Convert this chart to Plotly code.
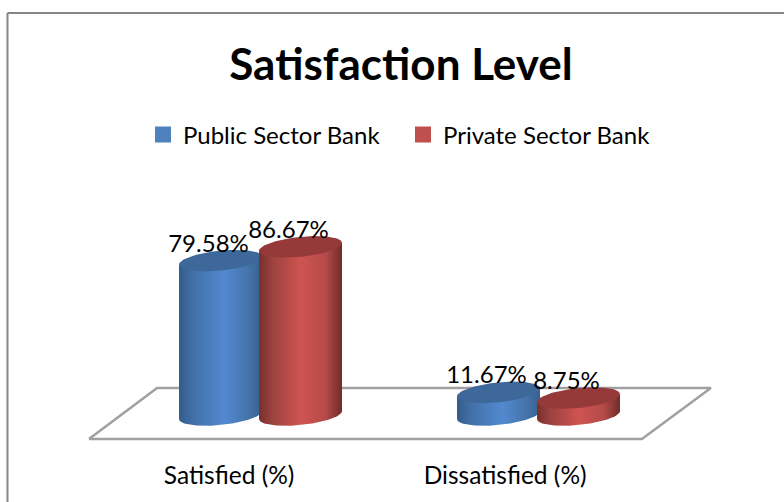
import numpy as np
import plotly.graph_objects as go

# Survey results
categories = ["Satisfied (%)", "Dissatisfied (%)"]
public_sector = [79.58, 11.67]
private_sector = [86.67, 8.75]
series_names = ["Public Sector Bank", "Private Sector Bank"]

FONT = "Lato"
W, H = 784, 502
PLOT_BOTTOM = 445        # pixel row where the plot area ends
PX_X = 278.0             # pixels per category step
PX_Y = 1.94              # pixels per percentage point
X0_PX, Y0_PX = 260.5, 415.0  # pixel position of first group, value 0

x_range = [-X0_PX / PX_X, (W - X0_PX) / PX_X]
y_range = [(Y0_PX - PLOT_BOTTOM) / PX_Y, Y0_PX / PX_Y]

# Cylinder proportions in axis units
HALF_W = 41.5 / PX_X
OFFSET = 40 / PX_X
RISE = 10 / PX_Y         # vertical half-axis of the end ellipses
SHEAR = 4 / PX_Y         # rim tilt, right side higher than left

BLUE_SIDE = [[0, "#335C8A"], [0.2, "#4473AC"], [0.55, "#5289CF"], [0.85, "#4472A8"], [1, "#38608E"]]
RED_SIDE = [[0, "#7A2F2D"], [0.15, "#9A413E"], [0.5, "#CE5451"], [0.8, "#B54B49"], [1, "#702C2A"]]
BLUE_TOP, RED_TOP = "#3D6899", "#953A38"
BLUE_KEY, RED_KEY = "#4F81BD", "#C0504D"


def rim(cx, level, t):
    return cx + HALF_W * np.cos(t), level + RISE * np.sin(t) + SHEAR * np.cos(t)


def add_cylinder(fig, cx, value, scale, top_color):
    t_low = np.linspace(np.pi, 2 * np.pi, 50)
    bx, by = rim(cx, 0, t_low)
    # the lower half of the base is swept with a negative sine
    sx = np.r_[bx, bx[-1], bx[0], bx[0]]
    sy = np.r_[by, by[-1] + value, by[0] + value, by[0]]
    fig.add_trace(go.Scatter(
        x=sx, y=sy, mode="lines", line=dict(width=0), fill="toself",
        fillgradient=dict(type="horizontal", colorscale=scale),
        hoverinfo="skip", showlegend=False))
    t_all = np.linspace(0, 2 * np.pi, 90)
    ex, ey = rim(cx, value, t_all)
    fig.add_trace(go.Scatter(
        x=ex, y=ey, mode="lines", line=dict(width=0), fill="toself",
        fillcolor=top_color, hoverinfo="skip", showlegend=False))


fig = go.Figure()

# Chart floor
fig.add_trace(go.Scatter(
    x=[-0.617, 1.372, 1.620, -0.372, -0.617],
    y=[-12.4, -12.4, 13.9, 13.9, -12.4],
    mode="lines", line=dict(color="#A0A0A0", width=2.5),
    fill="toself", fillcolor="white", hoverinfo="skip", showlegend=False))

# Legend keys
for name, color in zip(series_names, [BLUE_KEY, RED_KEY]):
    fig.add_trace(go.Scatter(
        x=[None], y=[None], mode="markers", name=name,
        marker=dict(symbol="square", size=16, color=color)))

# Cylinders, group by group so the second series overlaps the first
for i in range(len(categories)):
    add_cylinder(fig, i - OFFSET, public_sector[i], BLUE_SIDE, BLUE_TOP)
    add_cylinder(fig, i + OFFSET, private_sector[i], RED_SIDE, RED_TOP)

# Value labels
LABEL_DX, LABEL_DY = -12 / PX_X, 15 / PX_Y
for offset, values in [(-OFFSET, public_sector), (OFFSET, private_sector)]:
    fig.add_trace(go.Scatter(
        x=[i + offset + LABEL_DX for i in range(len(values))],
        y=[v + LABEL_DY for v in values],
        mode="text", text=[f"{v:.2f}%" for v in values],
        textposition="middle center", cliponaxis=False,
        textfont=dict(family=FONT, size=24, color="black"),
        hoverinfo="skip", showlegend=False))


def paper_y(px):
    return (PLOT_BOTTOM - px) / PLOT_BOTTOM


# Chart frame, open to the right and bottom edges
frame = dict(type="line", xref="paper", yref="paper", layer="above",
             line=dict(color="#868686", width=2))
shapes = [
    dict(frame, x0=7.5 / W, x1=7.5 / W, y0=paper_y(H), y1=paper_y(13)),
    dict(frame, x0=7.5 / W, x1=1, y0=paper_y(13), y1=paper_y(13)),
]

fig.update_layout(
    width=W, height=H, autosize=False,
    margin=dict(l=0, r=0, t=0, b=H - PLOT_BOTTOM),
    paper_bgcolor="white", plot_bgcolor="white",
    font=dict(family=FONT, color="black"),
    title=dict(text="<b>Satisfaction Level</b>",
               x=401 / W, xanchor="center", xref="paper",
               y=1 - 65 / H, yanchor="middle", yref="container",
               font=dict(family=FONT, size=44, color="black")),
    legend=dict(orientation="h", x=143 / W, xanchor="left",
                y=paper_y(135), yanchor="middle",
                font=dict(family=FONT, size=24), itemwidth=30,
                entrywidth=215, entrywidthmode="pixels",
                bgcolor="rgba(0,0,0,0)"),
    shapes=shapes,
    xaxis=dict(range=x_range, showgrid=False, zeroline=False, showline=False,
               tickmode="array", tickvals=[-0.113, 0.88], ticktext=categories,
               ticks="outside", ticklen=9, tickcolor="rgba(0,0,0,0)",
               tickfont=dict(family=FONT, size=24.5, color="black"), fixedrange=True),
    yaxis=dict(range=y_range, visible=False, fixedrange=True),
    hovermode=False,
)

fig.write_html("out.html", config=dict(displayModeBar=False))
